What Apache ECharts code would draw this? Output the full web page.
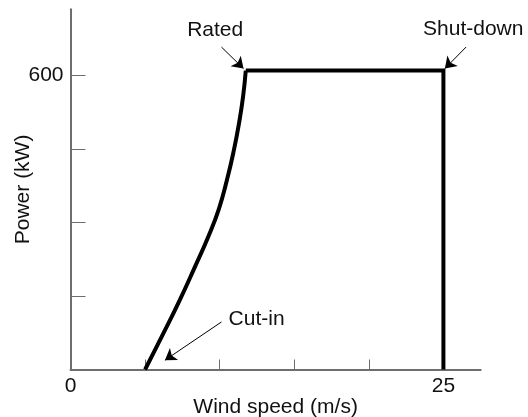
<!DOCTYPE html>
<html>
<head>
<meta charset="utf-8">
<script src="https://cdn.jsdelivr.net/npm/echarts@6/dist/echarts.min.js"></script>
<style>
  html, body { margin: 0; padding: 0; background: #fff; }
  #chart { width: 528px; height: 417px; }
</style>
</head>
<body>
<div id="chart"></div>
<script>
// power curve: [wind speed m/s, power kW]
var rampPoints = [
  [5.0, 0], [6.2, 72], [7.3, 140], [8.35, 210], [9.25, 272], [9.95, 328],
  [10.5, 388], [10.95, 447], [11.3, 503], [11.57, 557], [11.75, 610]
]
var ratedPoints = [[11.75, 610], [25, 610], [25, 0]]

var xTicks = [5, 10, 15, 20, 25]
var xLabels = [0, 25]
var yTicks = [150, 300, 450, 600]
var yLabels = [600]

// annotation texts and where they sit (data coords)
var notes = [
  { text: 'Rated', at: [9.7, 692], from: [10.12, 658], to: [11.6, 614], align: 'center' },
  { text: 'Shut-down', at: [27.0, 694], from: [26.52, 658], to: [25.1, 614], align: 'center' },
  { text: 'Cut-in', at: [10.6, 103], from: [10.12, 97], to: [6.33, 19], align: 'left' }
]

var font = '"Liberation Sans", Arial, Helvetica, sans-serif'
var fontSize = 21
var textColor = '#111'
var axisColor = '#6e6e6e'

var chart = echarts.init(document.getElementById('chart'))

var option = {
  animation: false,
  textStyle: { fontFamily: font },
  grid: { left: 70.5, right: 47.3, top: 9.3, bottom: 47.5, containLabel: false, outerBoundsMode: 'none' },
  xAxis: {
    type: 'value',
    min: 0,
    max: 27.5,
    interval: 5,
    name: 'Wind speed (m/s)',
    nameLocation: 'middle',
    nameGap: 27,
    nameMoveOverlap: false,
    nameTextStyle: { fontSize: fontSize, color: textColor, fontFamily: font },
    axisLine: { lineStyle: { color: axisColor, width: 2 } },
    axisTick: { inside: true, length: 10, customValues: xTicks, lineStyle: { color: axisColor, width: 1 } },
    axisLabel: { customValues: xLabels, fontSize: fontSize, color: textColor, margin: 6, fontFamily: font },
    splitLine: { show: false }
  },
  yAxis: {
    type: 'value',
    min: 0,
    max: 735,
    interval: 150,
    name: 'Power (kW)',
    nameLocation: 'middle',
    nameGap: 37,
    nameMoveOverlap: false,
    nameTextStyle: { fontSize: fontSize, color: textColor, fontFamily: font },
    axisLine: { show: true, lineStyle: { color: axisColor, width: 2 } },
    axisTick: { show: true, inside: true, length: 15, customValues: yTicks, lineStyle: { color: axisColor, width: 1 } },
    axisLabel: { customValues: yLabels, fontSize: fontSize, color: textColor, margin: 7, fontFamily: font },
    splitLine: { show: false }
  },
  series: [
    {
      type: 'line',
      data: rampPoints,
      smooth: 0.5,
      symbol: 'none',
      lineStyle: { color: '#000', width: 4 },
      markLine: {
        silent: true,
        animation: false,
        label: { show: false },
        lineStyle: { color: '#000', width: 1, type: 'solid' },
        symbol: ['none', 'arrow'],
        symbolSize: 11,
        data: notes.map(function (n) {
          return [{ coord: n.from }, { coord: n.to }]
        })
      },
      markPoint: {
        silent: true,
        animation: false,
        symbol: 'circle',
        symbolSize: 0,
        data: notes.map(function (n) {
          return {
            coord: n.at,
            label: {
              show: true,
              formatter: n.text,
              position: 'inside',
              align: n.align,
              verticalAlign: 'middle',
              fontSize: fontSize,
              color: textColor,
              fontFamily: font
            }
          }
        })
      }
    },
    {
      type: 'line',
      data: ratedPoints,
      symbol: 'none',
      lineStyle: { color: '#000', width: 4, join: 'miter' }
    }
  ]
}

chart.setOption(option)
</script>
</body>
</html>
